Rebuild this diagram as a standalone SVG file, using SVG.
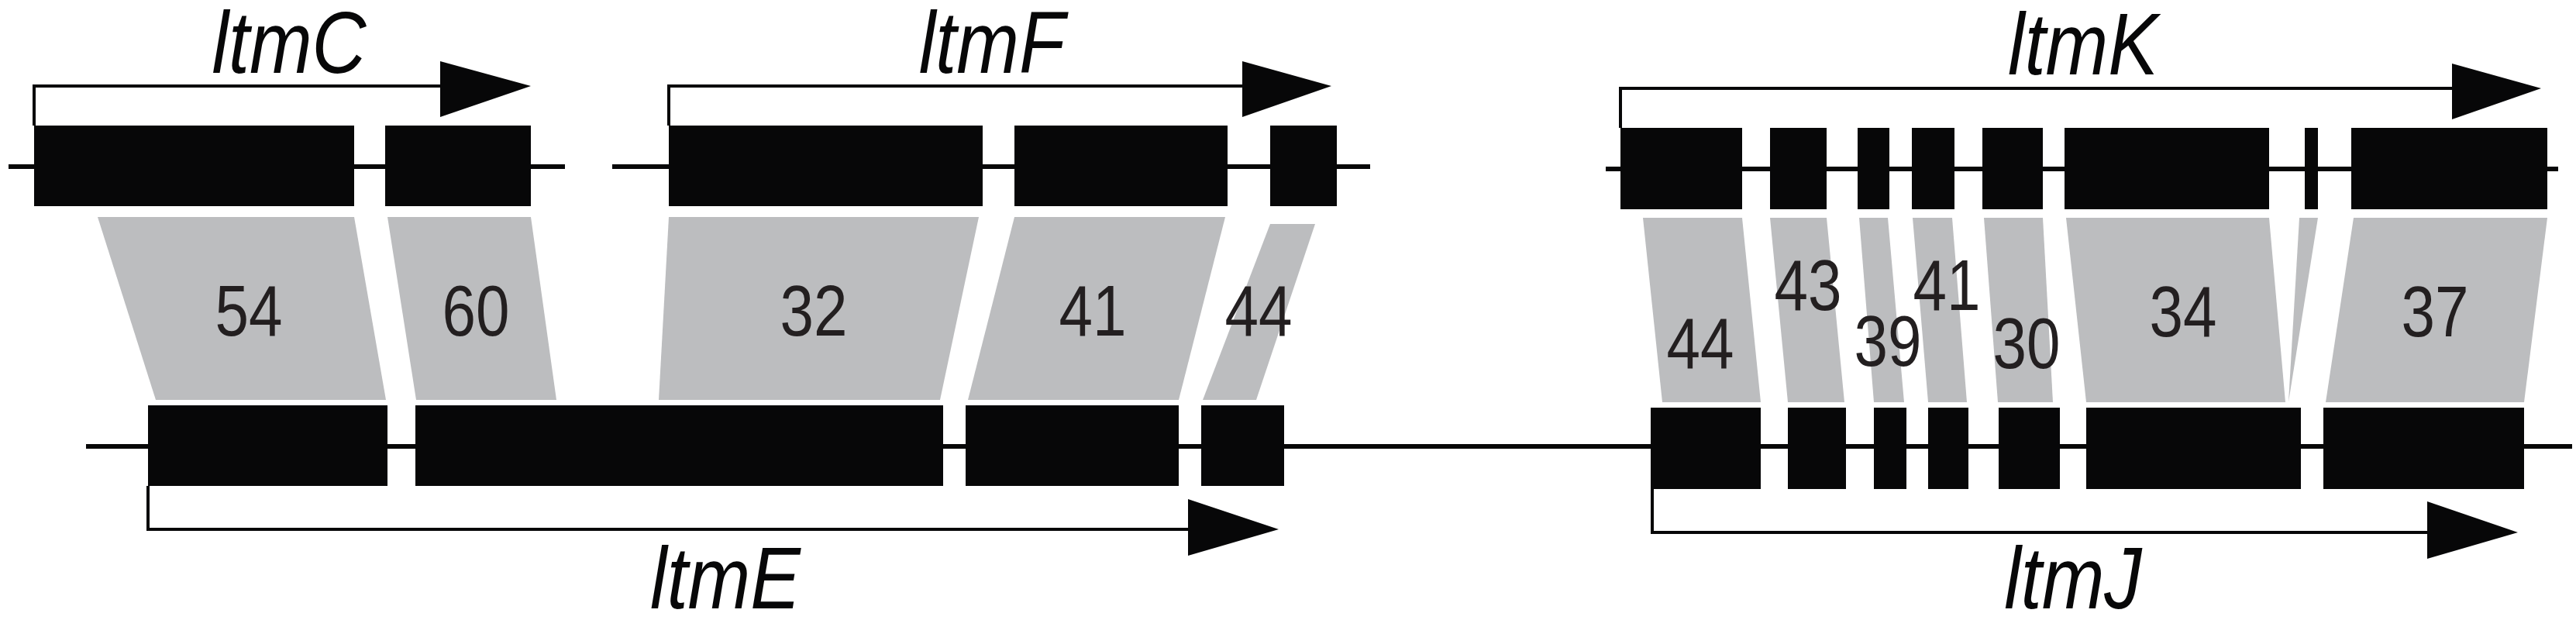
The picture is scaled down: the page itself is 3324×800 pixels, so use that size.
<svg xmlns="http://www.w3.org/2000/svg" width="3324" height="800" viewBox="0 0 3324 800">
<style>
.ex{fill:#070708}
.ln{stroke:#070708;stroke-width:6;fill:none}
.ar{stroke:#070708;stroke-width:4;fill:none}
.hd{fill:#070708}
.gr{fill:#bcbdbf}
.gn{font-family:"Liberation Sans",Arial,sans-serif;font-style:italic;font-size:114px;fill:#070708;text-anchor:middle}
.nm{font-family:"Liberation Sans",Arial,sans-serif;font-size:92px;fill:#231f20;text-anchor:middle}
</style>
<rect width="3324" height="800" fill="#fff"/>
<g id="connectors">
<line class="ln" x1="11" y1="215" x2="729" y2="215"/>
<line class="ln" x1="790" y1="215" x2="1768" y2="215"/>
<line class="ln" x1="2072" y1="218" x2="3301" y2="218"/>
<line class="ln" x1="111" y1="576" x2="3319" y2="576"/>
<g id="similarity">
<polygon class="gr" points="126,280 457,280 498,516 201,516"/>
<polygon class="gr" points="500,280 685,280 718,516 537,516"/>
<polygon class="gr" points="863,280 1263,280 1213,516 850,516"/>
<polygon class="gr" points="1309,280 1581,280 1521,516 1249,516"/>
<polygon class="gr" points="1639,289 1697,289 1621,516 1552,516"/>
<polygon class="gr" points="2120,281 2248,281 2272,519 2145,519"/>
<polygon class="gr" points="2284,281 2357,281 2380,519 2307,519"/>
<polygon class="gr" points="2399,281 2436,281 2457,519 2418,519"/>
<polygon class="gr" points="2468,281 2519,281 2538,519 2488,519"/>
<polygon class="gr" points="2560,281 2636,281 2649,519 2578,519"/>
<polygon class="gr" points="2666,281 2928,281 2949,519 2692,519"/>
<polygon class="gr" points="2967,281 2991,281 2953,519"/>
<polygon class="gr" points="3037,281 3287,281 3257,519 3001,519"/>
</g>
</g>
<g id="ltmC">
<rect class="ex" x="44" y="162" width="413" height="104"/>
<rect class="ex" x="497" y="162" width="188" height="104"/>
<polyline class="ar" points="44,162 44,111 570,111"/>
<polygon class="hd" points="568,79 685,111 568,151"/>
<text class="gn" transform="translate(373,94) scale(0.85,1)">ltmC</text>
</g>
<g id="ltmF">
<rect class="ex" x="863" y="162" width="405" height="104"/>
<rect class="ex" x="1309" y="162" width="275" height="104"/>
<rect class="ex" x="1639" y="162" width="86" height="104"/>
<polyline class="ar" points="863,162 863,111 1605,111"/>
<polygon class="hd" points="1603,79 1718,111 1603,151"/>
<text class="gn" transform="translate(1280,94) scale(0.85,1)">ltmF</text>
</g>
<g id="ltmE">
<rect class="ex" x="191" y="523" width="309" height="104"/>
<rect class="ex" x="536" y="523" width="681" height="104"/>
<rect class="ex" x="1246" y="523" width="275" height="104"/>
<rect class="ex" x="1550" y="523" width="107" height="104"/>
<polyline class="ar" points="191,627 191,683 1535,683"/>
<polygon class="hd" points="1533,644 1650,683 1533,717"/>
<text class="gn" transform="translate(936,785) scale(0.85,1)">ltmE</text>
</g>
<g id="ltmK">
<rect class="ex" x="2091" y="165" width="157" height="105"/>
<rect class="ex" x="2284" y="165" width="73" height="105"/>
<rect class="ex" x="2397" y="165" width="41" height="105"/>
<rect class="ex" x="2467" y="165" width="55" height="105"/>
<rect class="ex" x="2558" y="165" width="78" height="105"/>
<rect class="ex" x="2664" y="165" width="264" height="105"/>
<rect class="ex" x="2974" y="165" width="17" height="105"/>
<rect class="ex" x="3034" y="165" width="253" height="105"/>
<polyline class="ar" points="2091,165 2091,114 3166,114"/>
<polygon class="hd" points="3164,82 3279,114 3164,154"/>
<text class="gn" transform="translate(2688,96) scale(0.85,1)">ltmK</text>
</g>
<g id="ltmJ">
<rect class="ex" x="2130" y="526" width="142" height="105"/>
<rect class="ex" x="2307" y="526" width="75" height="105"/>
<rect class="ex" x="2418" y="526" width="42" height="105"/>
<rect class="ex" x="2488" y="526" width="52" height="105"/>
<rect class="ex" x="2579" y="526" width="79" height="105"/>
<rect class="ex" x="2692" y="526" width="277" height="105"/>
<rect class="ex" x="2998" y="526" width="259" height="105"/>
<polyline class="ar" points="2132,631 2132,687 3134,687"/>
<polygon class="hd" points="3132,647 3249,687 3132,721"/>
<text class="gn" transform="translate(2675,785) scale(0.85,1)">ltmJ</text>
</g>
<g id="labels">
<text class="nm" transform="translate(321,433) scale(0.85,1)">54</text>
<text class="nm" transform="translate(614,433) scale(0.85,1)">60</text>
<text class="nm" transform="translate(1050,433) scale(0.85,1)">32</text>
<text class="nm" transform="translate(1410,433) scale(0.85,1)">41</text>
<text class="nm" transform="translate(1624,433) scale(0.85,1)">44</text>
<text class="nm" transform="translate(2194,475) scale(0.85,1)">44</text>
<text class="nm" transform="translate(2333,400) scale(0.85,1)">43</text>
<text class="nm" transform="translate(2436,472) scale(0.85,1)">39</text>
<text class="nm" transform="translate(2512,400) scale(0.85,1)">41</text>
<text class="nm" transform="translate(2615,475) scale(0.85,1)">30</text>
<text class="nm" transform="translate(2817,434) scale(0.85,1)">34</text>
<text class="nm" transform="translate(3142,434) scale(0.85,1)">37</text>
</g>
</svg>
